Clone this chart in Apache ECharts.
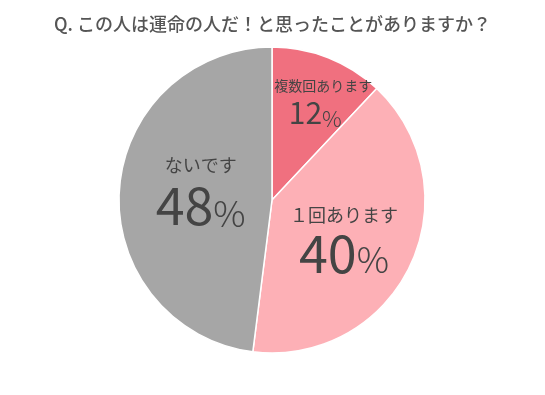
<!DOCTYPE html>
<html><head><meta charset="utf-8">
<script src="https://cdn.jsdelivr.net/npm/echarts@6/dist/echarts.min.js"></script>
<style>html,body{margin:0;padding:0;background:#fff}#c{width:545px;height:395px}</style>
</head><body><div id="c"></div>
<script>
const titleText = 'Q. この人は運命の人だ！と思ったことがありますか？';
const categories = ['複数回あります', '１回あります', 'ないです'];
const values = [12, 40, 48];
const colors = ['#f0707f', '#fdb0b6', '#a6a6a6'];
const labelOffsets = [[22, -23], [0, 6], [8, -4]];
// [name size, name lineHeight, number size, percent size, number lineHeight, number right padding]
const labelSizes = [[14, 20, 30, 22, 34, 16], [18, 26, 52, 36, 49, 0], [18, 28, 52, 36, 52, 0]];

const chart = echarts.init(document.getElementById('c'));
chart.setOption({
  title: { text: titleText, left: 'center', top: 10,
    textStyle: { fontFamily: 'Noto Sans CJK JP', fontSize: 18, fontWeight: 500, color: '#555' } },
  series: [{
    type: 'pie', center: [272, 200], radius: 153, startAngle: 90, clockwise: true,
    silent: true, animation: false,
    itemStyle: { borderColor: '#fff', borderWidth: 1.5 },
    label: { show: true, position: 'inside', formatter: '{n|{b}}\n{v|{c}}{p|%}' },
    labelLine: { show: false },
    data: categories.map((name, i) => {
      const s = labelSizes[i];
      return {
        name, value: values[i], itemStyle: { color: colors[i] },
        label: { offset: labelOffsets[i], rich: {
          n: { fontFamily: 'Noto Sans CJK JP', fontSize: s[0], color: '#444', lineHeight: s[1] },
          v: { fontFamily: 'Noto Sans CJK JP', fontSize: s[2], fontWeight: 'normal', color: '#444', lineHeight: s[4] },
          p: { fontFamily: 'Noto Sans CJK JP', fontSize: s[3], fontWeight: 300, color: '#444', lineHeight: s[4], verticalAlign: 'bottom', padding: [0, s[5], 0, 0] }
        } }
      };
    })
  }]
});
</script></body></html>
